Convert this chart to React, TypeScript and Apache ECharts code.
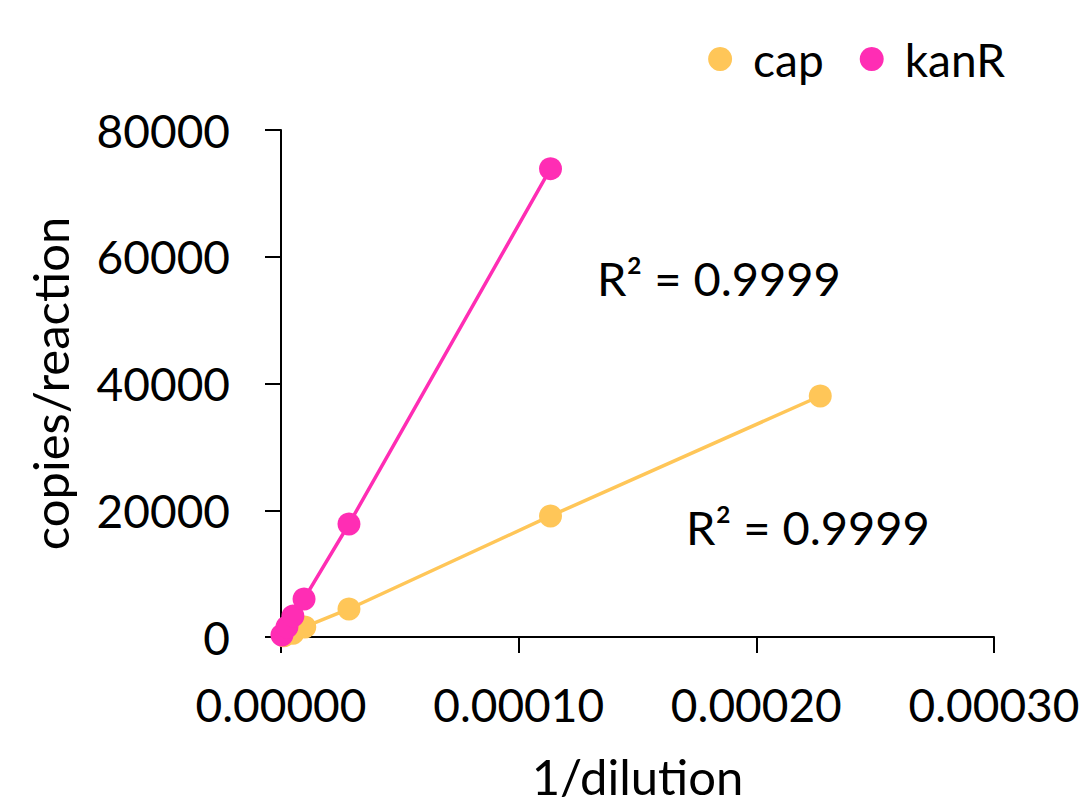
import React, { useEffect, useRef } from "react";
import * as echarts from "echarts";

const capX = [0.0000012, 0.000005, 0.00001, 0.0000286, 0.0001134, 0.0002269];
const capY = [200, 600, 1580, 4420, 19100, 38030];
const kanX = [0.0000004, 0.0000025, 0.000005, 0.0000097, 0.0000286, 0.0001134];
const kanY = [300, 1580, 3300, 6000, 17830, 73900];
const xTicks = [0, 0.0001, 0.0002, 0.0003];
const yTicks = [0, 20000, 40000, 60000, 80000];
const r2Labels = ["R² = 0.9999", "R² = 0.9999"];

const FONT = "Lato";
const CAP_COLOR = "#FFC658";
const KAN_COLOR = "#FF2DB4";

export default function App() {
  const ref = useRef<HTMLDivElement>(null);
  useEffect(() => {
    if (!ref.current) return;
    const chart = echarts.init(ref.current, undefined, { renderer: "svg" });
    const mk = (xs: number[], ys: number[]) => xs.map((x, i) => [x, ys[i]]);
    chart.setOption({
      animation: false,
      backgroundColor: "#ffffff",
      textStyle: { fontFamily: FONT },
      grid: {
        left: 281,
        right: 94,
        top: 130,
        bottom: 166,
        containLabel: false,
        outerBoundsMode: "none",
      },
      legend: {
        right: 78,
        top: 31,
        icon: "circle",
        itemWidth: 24,
        itemHeight: 24,
        itemGap: 36,
        textStyle: { fontFamily: FONT, fontSize: 46, color: "#000", padding: [0, 0, 0, 16] },
        data: ["cap", "kanR"],
      },
      xAxis: {
        type: "value",
        min: xTicks[0],
        max: xTicks[xTicks.length - 1],
        interval: 0.0001,
        name: "1/dilution",
        nameLocation: "middle",
        nameGap: 114,
        nameTextStyle: { fontFamily: FONT, fontSize: 49, lineHeight: 49, color: "#000" },
        axisLine: { onZero: false, lineStyle: { color: "#000", width: 2 } },
        axisTick: { show: true, length: 16, lineStyle: { color: "#000", width: 2 } },
        axisLabel: {
          fontFamily: FONT,
          fontSize: 46,
          color: "#000",
          margin: 44,
          formatter: (v: number) => v.toFixed(5),
        },
        splitLine: { show: false },
      },
      yAxis: {
        type: "value",
        min: yTicks[0],
        max: yTicks[yTicks.length - 1],
        interval: 20000,
        name: "copies/reaction",
        nameLocation: "middle",
        nameGap: 207,
        nameTextStyle: { fontFamily: FONT, fontSize: 49, color: "#000" },
        axisLine: { show: true, onZero: false, lineStyle: { color: "#000", width: 2 } },
        axisTick: { show: true, length: 16, lineStyle: { color: "#000", width: 2 } },
        axisLabel: {
          fontFamily: FONT,
          fontSize: 46,
          color: "#000",
          margin: 51,
          formatter: (v: number) => String(v),
        },
        splitLine: { show: false },
      },
      series: [
        {
          name: "cap",
          type: "line",
          data: mk(capX, capY),
          symbol: "circle",
          symbolSize: 23,
          itemStyle: { color: CAP_COLOR },
          lineStyle: { color: CAP_COLOR, width: 3.5 },
          z: 2,
        },
        {
          name: "kanR",
          type: "line",
          data: mk(kanX, kanY),
          symbol: "circle",
          symbolSize: 23,
          itemStyle: { color: KAN_COLOR },
          lineStyle: { color: KAN_COLOR, width: 3.5 },
          z: 3,
        },
      ],
      graphic: [
        {
          type: "text",
          left: 597,
          top: 254,
          style: { text: r2Labels[0], fontFamily: FONT, fontSize: 47, fill: "#000" },
        },
        {
          type: "text",
          left: 686,
          top: 503,
          style: { text: r2Labels[1], fontFamily: FONT, fontSize: 47, fill: "#000" },
        },
      ],
    });
    return () => chart.dispose();
  }, []);
  return (
    <div
      ref={ref}
      style={{ position: "fixed", left: 0, top: 0, width: 1088, height: 803 }}
    />
  );
}
